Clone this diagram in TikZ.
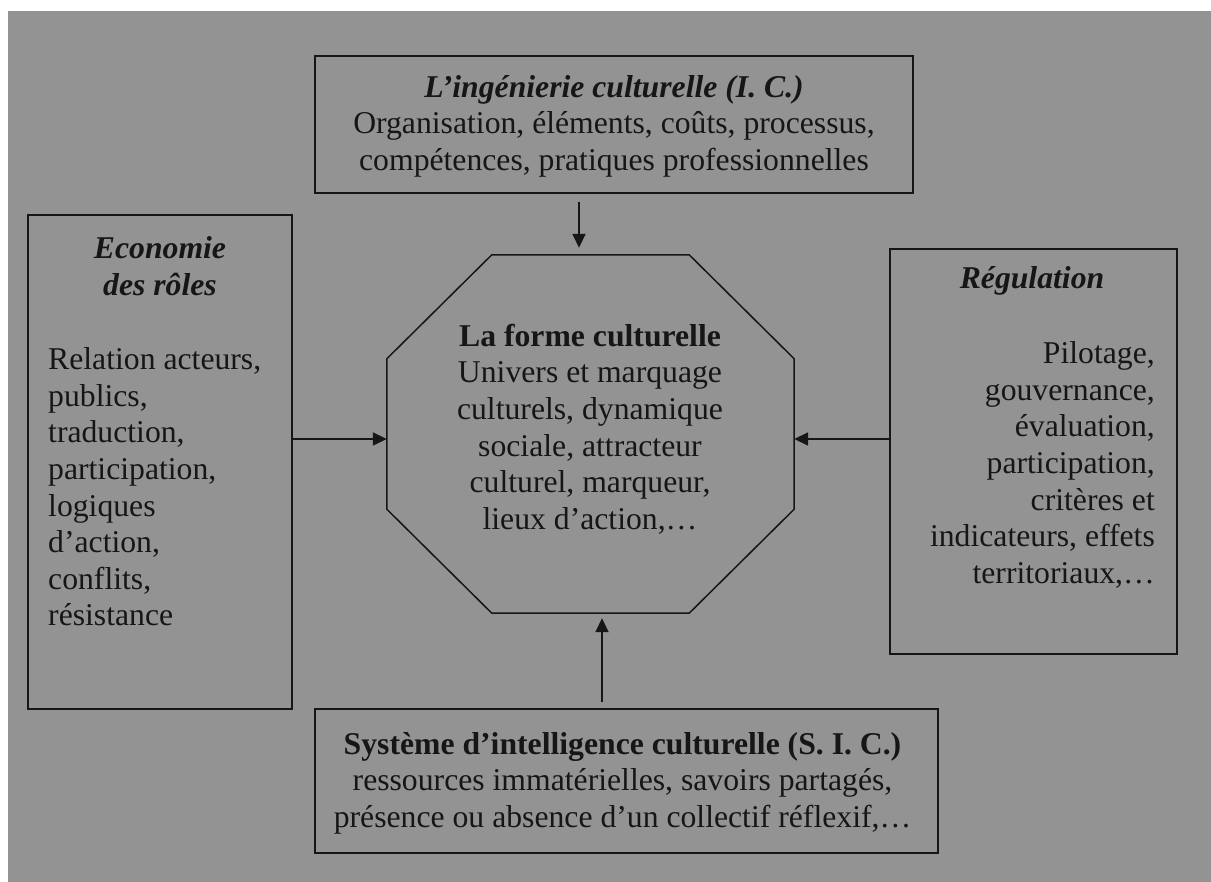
\documentclass[tikz,border=0pt]{standalone}
\usepackage{fontspec}
\setmainfont{Liberation Serif}
\usetikzlibrary{arrows.meta,calc}
\definecolor{bggray}{RGB}{147,147,147}
\definecolor{ink}{RGB}{22,22,22}
\begin{document}
\begin{tikzpicture}[x=1pt,y=-1pt,
  box/.style={draw=ink, line width=1.8pt, inner sep=0pt},
  frame/.style={inner sep=0pt},
  octline/.style={draw=ink, line width=1.5pt, line join=miter},
  txt/.style={inner sep=0pt, text=ink, font=\fontsize{31.7}{36.6}\selectfont},
  arr/.style={draw=ink, line width=1.8pt, -{Triangle[length=14pt,width=13pt]}},
]
\useasboundingbox (0,0) rectangle (1211,882);
\fill[white] (0,0) rectangle (1211,882);
\fill[bggray] (8,11) rectangle (1211,882);

% boxes
\node[box, minimum width=598pt, minimum height=137pt] (ic)  at (614,124.5) {};
\node[box, minimum width=264pt, minimum height=494pt] (er)  at (160,462) {};
\node[box, minimum width=287pt, minimum height=405pt] (reg) at (1033.5,451.5) {};
\node[box, minimum width=623pt, minimum height=144pt] (sic) at (626.5,781) {};

% octagon
\node[frame, minimum width=407pt, minimum height=358pt] (oct) at (590.5,434) {};
\draw[octline] ($(oct.north west)+(105,0)$) -- ($(oct.north east)+(-105,0)$)
  -- ($(oct.north east)+(0,104)$) -- ($(oct.south east)+(0,-104)$)
  -- ($(oct.south east)+(-105,0)$) -- ($(oct.south west)+(105,0)$)
  -- ($(oct.south west)+(0,-104)$) -- ($(oct.north west)+(0,104)$) -- cycle;

% texts
\node[txt, align=center] (ictxt) at (614,126)
  {\textbf{\textit{L’ingénierie culturelle (I. C.)}}\\
   Organisation, éléments, coûts, processus,\\
   compétences, pratiques professionnelles};
\node[txt, align=center] (octtxt) at (590,429)
  {\textbf{La forme culturelle}\\
   Univers et marquage\\
   culturels, dynamique\\
   sociale, attracteur\\
   culturel, marqueur,\\
   lieux d’action,…};
\node[txt, align=center] (ertitle) at (160,266)
  {\textbf{\textit{Economie}}\\\textbf{\textit{des rôles}}};
\node[txt, align=left, anchor=west] (erbody) at (48,487)
  {Relation acteurs,\\
   publics,\\
   traduction,\\
   participation,\\
   logiques\\
   d’action,\\
   conflits,\\
   résistance};
\node[txt] (regtitle) at (1032,281) {\textbf{\textit{Régulation}}};
\node[txt, align=right, anchor=east] (regbody) at (1155,465)
  {Pilotage,\\
   gouvernance,\\
   évaluation,\\
   participation,\\
   critères et\\
   indicateurs, effets\\
   territoriaux,…};
\node[txt, align=center] (sictxt) at (622.5,783)
  {\textbf{Système d’intelligence culturelle (S. I. C.)}\\
   ressources immatérielles, savoirs partagés,\\
   présence ou absence d’un collectif réflexif,…};

% arrows
\coordinate (tx) at (579,0);
\coordinate (bx) at (602,0);
\coordinate (ly) at (0,439);
\draw[arr, shorten <=8pt, shorten >=7pt] (ic.south -| tx) -- (oct.north -| tx);
\draw[arr, shorten <=6pt, shorten >=5pt] (sic.north -| bx) -- (oct.south -| bx);
\draw[arr] (er.east |- ly) -- (oct.west |- ly);
\draw[arr] (reg.west |- ly) -- (oct.east |- ly);
\end{tikzpicture}
\end{document}
